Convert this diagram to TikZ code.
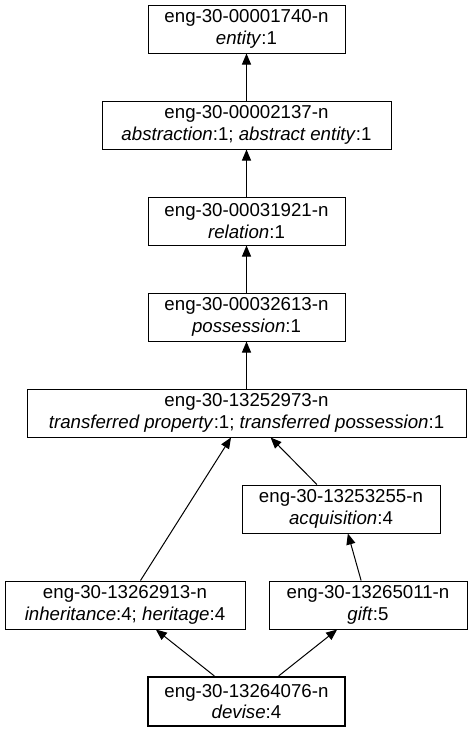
\documentclass[tikz,border=0pt]{standalone}
\usepackage{fontspec}
\setmainfont{Liberation Sans}
\usetikzlibrary{arrows.meta}
\begin{document}
\begin{tikzpicture}[x=1pt,y=1pt,
  syn/.style={draw=black, line width=1pt, rectangle, inner sep=0pt, minimum height=48pt, align=center,
    font=\fontsize{18.67}{21.5}\selectfont},
  rel/.style={draw=black, line width=1pt, -{Triangle[length=11pt,width=9pt]}}]
\useasboundingbox (0,0) rectangle (472,-731);
\fill[white] (0,0) rectangle (472,-731);
\node[syn, minimum width=197pt] (n1) at (246.5,-29) {eng-30-00001740-n\\\textit{entity}:1};
\node[syn, minimum width=289pt] (n2) at (246.5,-125) {eng-30-00002137-n\\\textit{abstraction}:1; \textit{abstract entity}:1};
\node[syn, minimum width=197pt] (n3) at (246.5,-221) {eng-30-00031921-n\\\textit{relation}:1};
\node[syn, minimum width=197pt] (n4) at (246.5,-317) {eng-30-00032613-n\\\textit{possession}:1};
\node[syn, minimum width=439pt] (n5) at (246.5,-413) {eng-30-13252973-n\\\textit{transferred property}:1; \textit{transferred possession}:1};
\node[syn, minimum width=198pt] (n6) at (341,-509) {eng-30-13253255-n\\\textit{acquisition}:4};
\node[syn, minimum width=240pt] (n7) at (125,-605) {eng-30-13262913-n\\\textit{inheritance}:4; \textit{heritage}:4};
\node[syn, minimum width=198pt] (n8) at (368,-605) {eng-30-13265011-n\\\textit{gift}:5};
\node[syn, minimum width=197pt, minimum height=49pt, line width=2.2pt] (n9) at (246.5,-701.5) {eng-30-13264076-n\\\textit{devise}:4};
\draw[rel] (n2) -- (n1);
\draw[rel] (n3) -- (n2);
\draw[rel] (n4) -- (n3);
\draw[rel] (n5) -- (n4);
\draw[rel] (n6) -- (n5);
\draw[rel] (n7) -- (n5);
\draw[rel] (n8) -- (n6);
\draw[rel] (n9) -- (n7);
\draw[rel] (n9) -- (n8);
\end{tikzpicture}
\end{document}
